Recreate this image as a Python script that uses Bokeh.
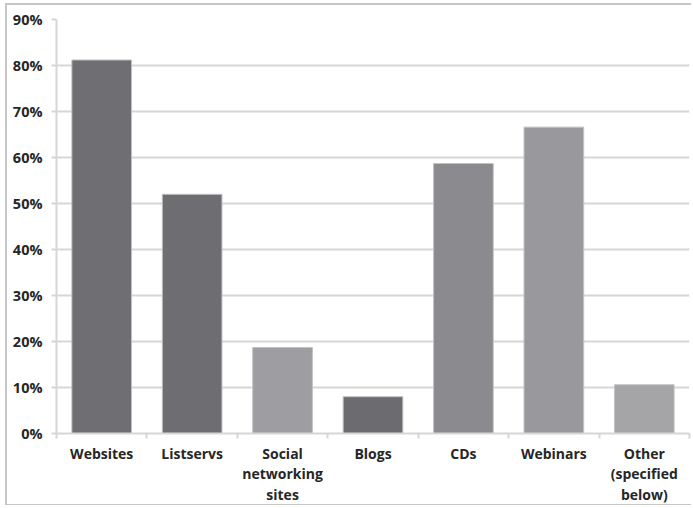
from bokeh.plotting import figure
from bokeh.models import (ColumnDataSource, Range1d, LinearAxis, FixedTicker,
                          Grid, CustomJSTickFormatter)
from bokeh.embed import file_html
from bokeh.resources import INLINE

# Share of respondents using each channel (%)
categories = ["Websites", "Listservs", "Social\nnetworking\nsites", "Blogs",
              "CDs", "Webinars", "Other\n(specified\nbelow)"]
shares = [81.2, 52.0, 18.7, 8.0, 58.7, 66.6, 10.6]
bar_colors = ["#6f6f73", "#6e6e72", "#9e9ea2", "#6c6c70",
              "#8b8b8f", "#99999d", "#a5a5a8"]
y_ticks = [0, 10, 20, 30, 40, 50, 60, 70, 80, 90]

FONT = "Open Sans"
TEXT = "#262626"
GRID = "#d6d6d6"

n = len(categories)
centers = [i + 0.5 for i in range(n)]
edges = list(range(n + 1))
source = ColumnDataSource(dict(x=centers, share=shares, color=bar_colors))

p = figure(x_range=Range1d(0, n), y_range=Range1d(0, 90),
           width=686, height=502,
           x_axis_type=None, y_axis_type=None,
           output_backend="svg", toolbar_location=None,
           min_border_left=49, min_border_top=14,
           min_border_right=4, min_border_bottom=68)
p.outline_line_color = None
p.background_fill_color = "white"
p.styles = {"margin-left": "5px", "margin-top": "3px",
            "border-left": "2px solid #c6c6c6",
            "border-top": "2px solid #c6c6c6",
            "border-bottom": "1px solid #c6c6c6"}

p.vbar(x="x", top="share", width=0.66, source=source,
       fill_color="color", line_color="#c2c2c4", line_width=1)

# y axis with percentage labels and outward ticks
yaxis = LinearAxis(ticker=FixedTicker(ticks=y_ticks),
                   formatter=CustomJSTickFormatter(code="return tick + '%';"))
yaxis.axis_line_color = GRID
yaxis.axis_line_width = 2
yaxis.major_tick_line_color = GRID
yaxis.major_tick_line_width = 2
yaxis.major_tick_in = 0
yaxis.major_tick_out = 5
yaxis.minor_tick_line_color = None
yaxis.major_label_standoff = 9
yaxis.major_label_text_font = FONT
yaxis.major_label_text_font_style = "bold"
yaxis.major_label_text_font_size = "14.5px"
yaxis.major_label_text_color = TEXT
p.add_layout(yaxis, "left")

# category names under each bar, boundary ticks as minor ticks
xaxis = LinearAxis(ticker=FixedTicker(ticks=centers, minor_ticks=edges),
                   major_label_overrides={c: name for c, name in zip(centers, categories)})
xaxis.axis_line_color = GRID
xaxis.axis_line_width = 2
xaxis.major_tick_line_color = None
xaxis.major_tick_in = 0
xaxis.major_tick_out = 0
xaxis.minor_tick_line_color = GRID
xaxis.minor_tick_line_width = 2
xaxis.minor_tick_in = 0
xaxis.minor_tick_out = 5
xaxis.major_label_standoff = 5
xaxis.major_label_text_font = FONT
xaxis.major_label_text_font_style = "bold"
xaxis.major_label_text_font_size = "14px"
xaxis.major_label_text_color = TEXT
xaxis.major_label_text_line_height = 1.1
p.add_layout(xaxis, "below")

p.add_layout(Grid(dimension=1, ticker=yaxis.ticker,
                  grid_line_color=GRID, grid_line_width=2))

open("out.html", "w").write(file_html(p, INLINE))
